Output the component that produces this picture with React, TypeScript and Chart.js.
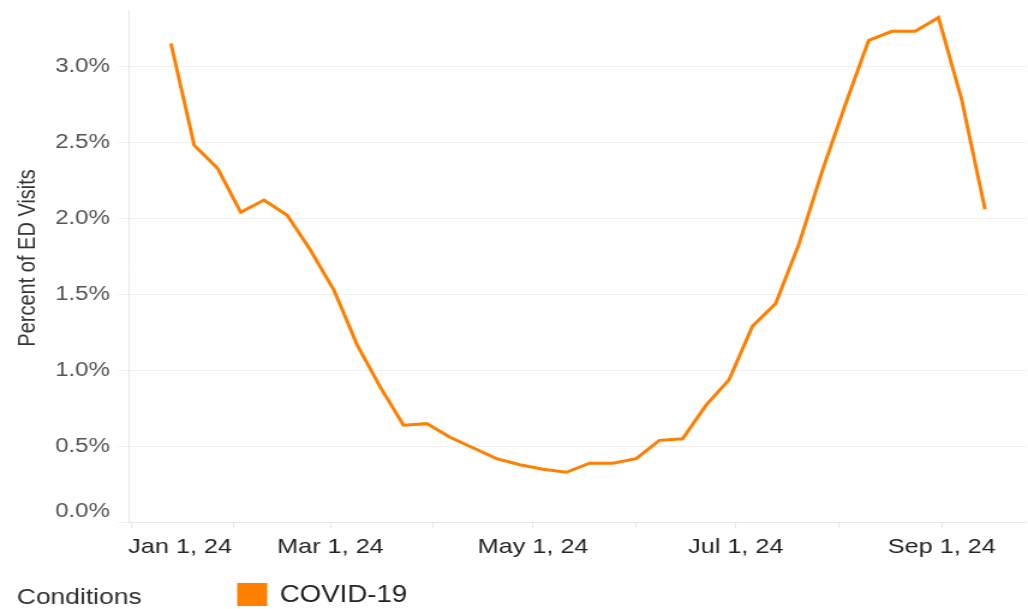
import React, { useEffect, useRef } from 'react';
import { Chart, registerables } from 'chart.js';

Chart.register(...registerables);

// ---- data ----
const weekEnding = [
  '2024-01-13', '2024-01-20', '2024-01-27', '2024-02-03', '2024-02-10', '2024-02-17',
  '2024-02-24', '2024-03-02', '2024-03-09', '2024-03-16', '2024-03-23', '2024-03-30',
  '2024-04-06', '2024-04-13', '2024-04-20', '2024-04-27', '2024-05-04', '2024-05-11',
  '2024-05-18', '2024-05-25', '2024-06-01', '2024-06-08', '2024-06-15', '2024-06-22',
  '2024-06-29', '2024-07-06', '2024-07-13', '2024-07-20', '2024-07-27', '2024-08-03',
  '2024-08-10', '2024-08-17', '2024-08-24', '2024-08-31', '2024-09-07', '2024-09-14',
];
const covidPercent = [
  3.15, 2.48, 2.33, 2.04, 2.12, 2.02, 1.79, 1.53, 1.17, 0.89, 0.64, 0.65,
  0.56, 0.49, 0.42, 0.38, 0.35, 0.33, 0.39, 0.39, 0.42, 0.54, 0.55, 0.77,
  0.94, 1.29, 1.44, 1.83, 2.31, 2.75, 3.17, 3.23, 3.23, 3.32, 2.78, 2.06,
];
const seriesLabel = 'COVID-19';
const legendTitle = 'Conditions';
const yAxisTitle = 'Percent of ED Visits';
const monthTickDates = [
  '2024-01-01', '2024-02-01', '2024-03-01', '2024-04-01', '2024-05-01',
  '2024-06-01', '2024-07-01', '2024-08-01', '2024-09-01',
];
const monthTickLabels = ['Jan 1, 24', '', 'Mar 1, 24', '', 'May 1, 24', '', 'Jul 1, 24', '', 'Sep 1, 24'];
const yTickValues = [0, 0.5, 1.0, 1.5, 2.0, 2.5, 3.0];
const xRangeDates = ['2023-12-31T09:36:00Z', '2024-09-26T09:36:00Z'];

// ---- helpers ----
const ORIGIN = Date.parse('2024-01-01T00:00:00Z');
const dayOf = (s: string) =>
  (Date.parse(s.length > 10 ? s : s + 'T00:00:00Z') - ORIGIN) / 86400000;

const FONT = 'Arial, "Liberation Sans", Helvetica, sans-serif';
const S = 1.2009; // horizontal stretch of the reference
const W = 856;
const H = 609;

const legendPlugin = {
  id: 'conditionsLegend',
  afterLayout(chart: any) {
    // lift the "0.0%" label above the x axis line, as in the reference
    const y = chart.scales.y;
    if (!y || !y.getLabelItems) return;
    const items = y.getLabelItems();
    items.forEach((it: any) => {
      if (it.label === '0.0%' && it.options && it.options.translation) {
        it.options.translation[1] -= 11;
      }
    });
  },
  afterDraw(chart: any) {
    const ctx = chart.ctx;
    const ds = chart.data.datasets[0];
    ctx.save();
    ctx.textAlign = 'left';
    ctx.textBaseline = 'alphabetic';
    ctx.font = `22px ${FONT}`;
    ctx.fillStyle = '#333333';
    ctx.fillText(legendTitle, 14, 604);
    ctx.fillStyle = ds.borderColor;
    ctx.fillRect(197.5, 583, 25, 23);
    ctx.font = `23px ${FONT}`;
    ctx.fillStyle = '#222222';
    ctx.fillText(ds.label, 233, 602);
    ctx.restore();
  },
};

export default function App() {
  const ref = useRef<HTMLCanvasElement>(null);

  useEffect(() => {
    if (!ref.current) return;
    Chart.defaults.font.family = FONT;
    const points = weekEnding.map((d, i) => ({ x: dayOf(d), y: covidPercent[i] }));
    const tickDays = monthTickDates.map(dayOf);

    const chart = new Chart(ref.current, {
      type: 'line',
      data: {
        datasets: [
          {
            label: seriesLabel,
            data: points,
            borderColor: '#ff8000',
            backgroundColor: '#ff8000',
            borderWidth: 3,
            pointRadius: 0,
            tension: 0,
            fill: false,
          },
        ],
      },
      options: {
        animation: false,
        responsive: true,
        maintainAspectRatio: false,
        layout: { padding: { top: 10, right: 0, left: 0, bottom: 46.5 } },
        plugins: { legend: { display: false }, tooltip: { enabled: false } },
        scales: {
          x: {
            type: 'linear',
            min: dayOf(xRangeDates[0]),
            max: dayOf(xRangeDates[1]),
            afterBuildTicks: (s: any) => {
              s.ticks = tickDays.map((v) => ({ value: v }));
            },
            afterFit: (s: any) => {
              s.height = 40;
              s.paddingLeft = 0;
              s.paddingRight = 0;
            },
            grid: { drawOnChartArea: false, drawTicks: true, tickLength: 6, color: '#e6e6e6' },
            border: { color: '#e6e6e6' },
            ticks: {
              autoSkip: false,
              maxRotation: 0,
              minRotation: 0,
              padding: 6,
              color: '#222222',
              font: { size: 21 },
              callback: (_v: any, i: number) =>
                i === 0 ? ' '.repeat(14) + monthTickLabels[i] : monthTickLabels[i],
            },
          },
          y: {
            type: 'linear',
            min: 0,
            max: 3.37,
            afterBuildTicks: (s: any) => {
              s.ticks = yTickValues.map((v) => ({ value: v }));
            },
            afterFit: (s: any) => {
              s.width = 107.5;
              s.paddingTop = 0;
              s.paddingBottom = 0;
            },
            grid: { color: '#efefef', tickLength: 9 },
            border: { color: '#e6e6e6' },
            ticks: {
              padding: 7,
              color: '#555555',
              font: { size: 20 },
              callback: (v: any) => Number(v).toFixed(1) + '%',
            },
            title: {
              display: true,
              text: '   ' + yAxisTitle,
              color: '#333333',
              font: { size: 20 },
              padding: { top: 11, bottom: 0 },
            },
          },
        },
      },
      plugins: [legendPlugin],
    } as any);
    return () => chart.destroy();
  }, []);

  return (
    <div
      style={{
        position: 'fixed',
        left: 0,
        top: 0,
        width: 1028,
        height: H,
        overflow: 'hidden',
        background: '#ffffff',
      }}
    >
      <div
        style={{
          position: 'absolute',
          left: 0,
          top: 0,
          width: W,
          height: H,
          transform: `scaleX(${S})`,
          transformOrigin: '0 0',
        }}
      >
        <canvas ref={ref} />
      </div>
    </div>
  );
}
